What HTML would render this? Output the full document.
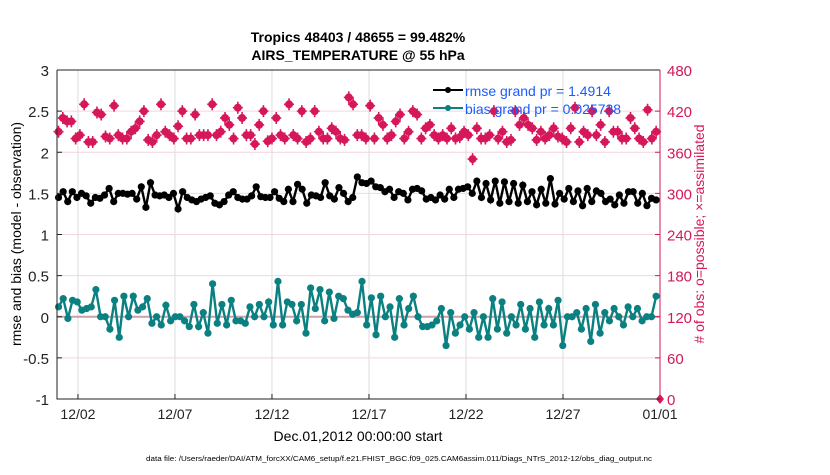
<!DOCTYPE html>
<html><head><meta charset="utf-8"><style>
body{margin:0;background:#fff;width:830px;height:470px;overflow:hidden}
svg text{font-family:"Liberation Sans",Arial,sans-serif}
</style></head><body>
<svg id="chart" width="830" height="470" xmlns="http://www.w3.org/2000/svg">
<text x="358" y="42" font-size="14" font-weight="bold" text-anchor="middle">Tropics 48403 / 48655 = 99.482%</text>
<text x="358" y="60" font-size="14" font-weight="bold" text-anchor="middle">AIRS_TEMPERATURE @ 55 hPa</text>
<g id="grid"></g>
<g id="marks"></g>
<g id="axes"></g>
<text transform="translate(21,234) rotate(-90)" font-size="14" text-anchor="middle">rmse and bias (model - observation)</text>
<text transform="translate(704,234) rotate(-90)" font-size="14" fill="#d6175a" text-anchor="middle"># of obs: o=possible; ×=assimilated</text>
<text x="358" y="441" font-size="14" text-anchor="middle">Dec.01,2012 00:00:00 start</text>
<text x="146" y="461" font-size="7" textLength="506" lengthAdjust="spacingAndGlyphs">data file: /Users/raeder/DAI/ATM_forcXX/CAM6_setup/f.e21.FHIST_BGC.f09_025.CAM6assim.011/Diags_NTrS_2012-12/obs_diag_output.nc</text>
<g>
<line x1="433" y1="90" x2="463" y2="90" stroke="#000" stroke-width="2"/><circle cx="448" cy="90" r="3" fill="#000"/>
<text x="465" y="96" font-size="14" fill="#1a5cff">rmse grand pr = 1.4914</text>
<line x1="433" y1="108" x2="463" y2="108" stroke="#0b8080" stroke-width="2"/><circle cx="448" cy="108" r="3" fill="#0b8080"/>
<text x="465" y="114" font-size="14" fill="#1a5cff">bias grand pr = 0.025738</text>
</g>
</svg>
<script>
const xTickLabels=["12/02","12/07","12/12","12/17","12/22","12/27","01/01"];
const xTickDays=[1,6,11,16,21,26,31];
const leftTicks=[-1,-0.5,0,0.5,1,1.5,2,2.5,3];
const rightTicks=[0,60,120,180,240,300,360,420,480];
const rmse=[1.45,1.52,1.40,1.52,1.45,1.50,1.47,1.38,1.45,1.44,1.48,1.56,1.40,1.50,1.50,1.49,1.50,1.43,1.58,1.33,1.63,1.48,1.47,1.48,1.45,1.50,1.31,1.52,1.45,1.42,1.40,1.43,1.45,1.47,1.38,1.36,1.40,1.48,1.52,1.45,1.43,1.43,1.47,1.58,1.46,1.45,1.45,1.52,1.44,1.40,1.55,1.40,1.61,1.55,1.38,1.48,1.47,1.45,1.63,1.47,1.43,1.57,1.50,1.40,1.45,1.70,1.63,1.62,1.65,1.58,1.57,1.52,1.55,1.45,1.52,1.50,1.42,1.55,1.56,1.53,1.43,1.45,1.42,1.48,1.43,1.55,1.45,1.55,1.56,1.58,1.50,1.65,1.45,1.62,1.42,1.65,1.38,1.64,1.40,1.62,1.38,1.60,1.40,1.52,1.36,1.55,1.38,1.68,1.37,1.50,1.43,1.56,1.40,1.53,1.35,1.56,1.40,1.53,1.50,1.40,1.43,1.36,1.48,1.38,1.52,1.52,1.38,1.50,1.35,1.44,1.42];
const bias=[0.12,0.22,-0.02,0.20,0.18,0.08,0.10,0.12,0.33,0.0,0.0,-0.15,0.20,-0.25,0.25,0.0,0.25,0.08,0.12,0.22,-0.08,0.0,-0.1,0.14,-0.05,0.0,0.0,-0.05,-0.12,0.15,-0.12,0.05,-0.20,0.40,-0.08,0.15,-0.10,0.20,-0.05,-0.05,-0.08,0.12,0.0,0.15,0.0,0.18,-0.10,0.43,-0.10,0.18,0.15,-0.05,0.15,-0.20,0.35,0.10,0.33,-0.05,0.30,-0.02,0.25,0.22,0.08,0.03,0.05,0.43,-0.10,0.23,-0.22,0.25,0.0,0.12,-0.25,0.22,-0.10,0.10,0.25,0.0,-0.12,-0.12,-0.10,-0.05,0.10,-0.35,0.05,-0.20,-0.10,0.0,-0.15,0.05,-0.25,0.0,-0.25,0.22,-0.15,0.18,-0.20,0.0,-0.10,0.15,-0.15,0.10,-0.25,0.18,-0.10,0.10,-0.10,0.20,-0.35,0.0,0.0,0.05,-0.15,0.10,-0.30,0.15,-0.20,0.05,-0.05,0.10,0.0,-0.10,0.12,0.0,0.10,-0.05,0.0,0.0,0.25];
const nobs=[390,410,405,405,380,385,430,375,375,418,415,383,380,428,385,380,380,390,395,405,420,378,375,385,430,390,385,380,398,420,380,380,415,385,385,385,430,385,390,410,400,380,425,410,385,385,372,400,420,376,380,410,385,380,430,385,380,420,375,380,420,390,380,380,395,390,380,378,440,430,385,385,380,428,380,410,400,380,385,405,415,380,390,420,415,380,395,400,385,380,385,380,395,380,382,390,385,350,395,380,380,385,420,380,390,375,378,420,400,410,400,395,378,390,380,385,395,383,380,375,395,425,375,390,385,420,385,400,375,420,390,390,380,380,410,395,380,375,422,380,390];
const X0=57,X1=660,Y0=70,Y1=399,DMIN=-0.08,DMAX=31;
const xs=d=>X0+(d-DMIN)/(DMAX-DMIN)*(X1-X0);
const yl=v=>Y1-(v+1)/4*(Y1-Y0);
const yr=v=>Y1-v/480*(Y1-Y0);
const NS="http://www.w3.org/2000/svg";
function mk(tag,attrs,parent){const e=document.createElementNS(NS,tag);for(const k in attrs)e.setAttribute(k,attrs[k]);parent.appendChild(e);return e;}
const grid=document.getElementById('grid'),marks=document.getElementById('marks'),axes=document.getElementById('axes');
xTickDays.forEach((d,i)=>{
 const l=mk('line',{x1:xs(d),x2:xs(d),y1:Y0,y2:Y1,stroke:'#ddd','stroke-width':1},grid);
 
 
 const t=mk('line',{x1:xs(d),x2:xs(d),y1:Y1,y2:Y1-5,stroke:'#222'},axes);
 
 
 const tx=mk('text',{x:xs(d),y:Y1+20,'font-size':14,'text-anchor':'middle',fill:'#222'},axes);
 tx.textContent=xTickLabels[i];
 
 
});
rightTicks.forEach(v=>{
 const l=mk('line',{x1:X0,x2:X1,y1:yr(v),y2:yr(v),stroke:'#f4d4e0','stroke-width':1},grid);
 
 
 const t=mk('line',{x1:X1,x2:X1-5,y1:yr(v),y2:yr(v),stroke:'#d6175a'},axes);
 
 
 const tx=mk('text',{x:X1+7,y:yr(v)+6,'font-size':15,fill:'#d6175a'},axes);
 tx.textContent=v;
 
 
});
leftTicks.forEach(v=>{
 const t=mk('line',{x1:X0,x2:X0+5,y1:yl(v),y2:yl(v),stroke:'#222'},axes);
 
 
 const tx=mk('text',{x:X0-8,y:yl(v)+6,'font-size':15,'text-anchor':'end',fill:'#222'},axes);
 tx.textContent=v;
 
 
});
const zl=mk('line',{x1:X0,x2:X1,y1:yl(0),y2:yl(0),stroke:'#c9a0ae','stroke-width':2},grid);


const ax=mk('path',{d:`M${X0},${Y0}V${Y1}H${X1}M${X0},${Y0}H${X1}`,stroke:'#222',fill:'none'},axes);


const ra=mk('line',{x1:X1,x2:X1,y1:Y0,y2:Y1,stroke:'#d6175a'},axes);


const dayOf=(i,n)=>i*30.8/(n-1);
nobs.forEach((v,i)=>{
 const d=dayOf(i,nobs.length);
 const g=mk('g',{transform:`translate(${xs(d)},${yr(v)})`,fill:'#d6175a'},marks);
 
 
 mk('circle',{cx:0,cy:0,r:4},g);
 mk('path',{d:'M0,-6V6M-5,0H5',stroke:'#d6175a','stroke-width':1.6},g);
});
const endMark=mk('path',{d:`M${X1},${Y1-5}L${X1+4},${Y1}L${X1},${Y1+5}L${X1-4},${Y1}Z`,fill:'#d6175a'},marks);


function series(arr,color,name){
 const pts=arr.map((v,i)=>[xs(dayOf(i,arr.length)),yl(v)]);
 const p=mk('polyline',{points:pts.map(p=>p.join(',')).join(' '),fill:'none',stroke:color,'stroke-width':2.4},marks);
 
 
 pts.forEach(pt=>{
  const c=mk('circle',{cx:pt[0],cy:pt[1],r:3.6,fill:color},marks);
  
  
 });
}
series(rmse,'#000','rmse');
series(bias,'#0b8080','bias');
</script>
</body></html>
